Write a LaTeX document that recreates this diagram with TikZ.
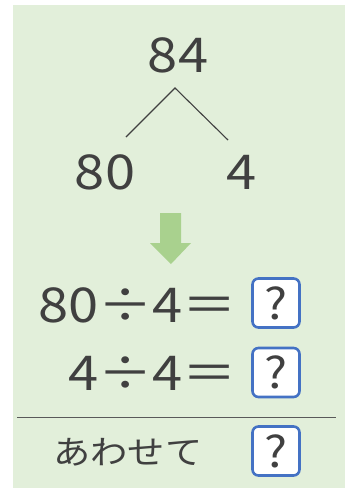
\documentclass[tikz,border=0pt]{standalone}
\usepackage{fontspec}
\newfontfamily\jpfont{Noto Sans CJK JP}
\newfontfamily\widefont[FakeStretch=1.13]{Noto Sans CJK JP}
\usetikzlibrary{positioning}
\definecolor{panelgreen}{HTML}{E2EFDA}
\definecolor{arrowgreen}{HTML}{A9D18E}
\definecolor{boxblue}{HTML}{4472C4}
\definecolor{inkgray}{HTML}{404040}

\begin{document}
\begin{tikzpicture}[
    x=1pt, y=-1pt,
    num/.style     = {font=\widefont\fontsize{48}{48}\selectfont, text=inkgray,
                      inner sep=0pt},
    eqn/.style     = {num, anchor=east},
    jplbl/.style   = {font=\widefont\fontsize{33}{33}\selectfont, text=inkgray,
                      inner sep=0pt},
    ansbox/.style  = {rectangle, draw=boxblue, line width=2.6pt, fill=white,
                      rounded corners=6pt, minimum width=47pt, minimum height=49pt,
                      inner sep=0pt, text=inkgray,
                      font=\widefont\fontsize{43}{43}\selectfont},
    leg/.style     = {draw=inkgray, line width=1.1pt},
    rule/.style    = {draw=black!65, line width=1pt},
]

%% ============================================================
%% PANEL
%% ============================================================
\useasboundingbox (0,0) rectangle (345,488);
\fill[panelgreen] (13,5) rectangle (345,488);

%% ============================================================
%% SPLIT TREE
%% ============================================================
\node[num] (whole) at (178,55)  {84};
\node[num] (tens)  at (105,172) {80};
\node[num] (ones)  at (242,172) {4};

\coordinate (apex) at (175,88);
\coordinate (legL) at (126,137);
\coordinate (legR) at (228,140);
\draw[leg] (legL) -- (apex) -- (legR);

%% down arrow
\fill[arrowgreen] (160,213) -- (181,213) -- (181,243) -- (191,243)
                  -- (171,264) -- (150,243) -- (160,243) -- cycle;

%% ============================================================
%% EQUATIONS
%% ============================================================
\node[eqn] (eqA) at (237,305) {80÷4＝};
\node[eqn] (eqB) at (237,373) {4÷4＝};
\node[ansbox] (ansA) at (276,303)   {?};
\node[ansbox] (ansB) at (276,372.5) {?};

\coordinate (ruleL) at (17,417);
\coordinate (ruleR) at (336,417);
\draw[rule] (ruleL) -- (ruleR);

\node[jplbl]  (total) at (128,452) {あわせて};
\node[ansbox] (ansC)  at (276,451) {?};

\end{tikzpicture}
\end{document}
